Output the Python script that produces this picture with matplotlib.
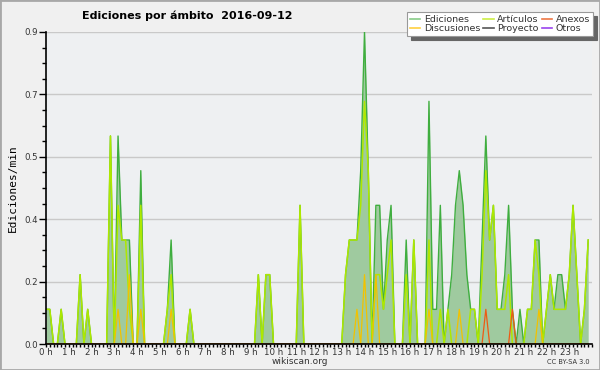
import numpy as np
import matplotlib
matplotlib.use("Agg")
import matplotlib.pyplot as plt
from matplotlib.patches import Rectangle
from matplotlib.ticker import MultipleLocator, FuncFormatter

# edits per minute, one value per 10-minute bin (6 bins per hour row)
ediciones = [
    0.1, 0.1, 0, 0, 0.1, 0,        # 0 h
    0, 0, 0, 0.2, 0, 0.1,          # 1 h
    0, 0, 0, 0, 0, 0.6,            # 2 h
    0, 0.6, 0.3, 0.3, 0.3, 0,      # 3 h
    0, 0.5, 0, 0, 0, 0,            # 4 h
    0, 0, 0.1, 0.3, 0, 0,          # 5 h
    0, 0, 0.1, 0, 0, 0,            # 6 h
    0, 0, 0, 0, 0, 0,              # 7 h
    0, 0, 0, 0, 0, 0,              # 8 h
    0, 0, 0.2, 0, 0.2, 0.2,        # 9 h
    0, 0, 0, 0, 0, 0,              # 10 h
    0, 0.4, 0, 0, 0, 0,            # 11 h
    0, 0, 0, 0, 0, 0,              # 12 h
    0, 0.2, 0.3, 0.3, 0.3, 0.5,    # 13 h
    0.9, 0.5, 0, 0.4, 0.4, 0.1,    # 14 h
    0.3, 0.4, 0, 0, 0, 0.3,        # 15 h
    0, 0.3, 0, 0, 0, 0.7,          # 16 h
    0.1, 0.1, 0.4, 0, 0.1, 0.2,    # 17 h
    0.4, 0.5, 0.4, 0.2, 0.1, 0.1,  # 18 h
    0, 0.3, 0.6, 0.3, 0.4, 0.1,    # 19 h
    0.1, 0.2, 0.4, 0.1, 0, 0.1,    # 20 h
    0, 0.1, 0.1, 0.3, 0.3, 0,      # 21 h
    0.1, 0.2, 0.1, 0.2, 0.2, 0.1,  # 22 h
    0.2, 0.4, 0.2, 0, 0.1, 0.3,    # 23 h
]
articulos = [
    0.1, 0.1, 0, 0, 0.1, 0,
    0, 0, 0, 0.2, 0, 0.1,
    0, 0, 0, 0, 0, 0.6,
    0, 0.4, 0.3, 0.3, 0.1, 0,
    0, 0.4, 0, 0, 0, 0,
    0, 0, 0.1, 0.2, 0, 0,
    0, 0, 0.1, 0, 0, 0,
    0, 0, 0, 0, 0, 0,
    0, 0, 0, 0, 0, 0,
    0, 0, 0.2, 0, 0.2, 0.2,
    0, 0, 0, 0, 0, 0,
    0, 0.4, 0, 0, 0, 0,
    0, 0, 0, 0, 0, 0,
    0, 0.2, 0.3, 0.3, 0.3, 0.4,
    0.7, 0.5, 0, 0.2, 0.2, 0.1,
    0.2, 0.3, 0, 0, 0, 0.2,
    0, 0.3, 0, 0, 0, 0.3,
    0, 0, 0.1, 0, 0.1, 0,
    0, 0, 0, 0, 0.1, 0.1,
    0, 0.2, 0.5, 0.3, 0.4, 0.1,
    0.1, 0.1, 0.2, 0, 0, 0,
    0, 0.1, 0.1, 0.3, 0.2, 0,
    0.1, 0.2, 0.1, 0.1, 0.1, 0.1,
    0.2, 0.4, 0.2, 0, 0.1, 0.3,
]
# sparse series: bin index -> value
discusiones_bins = [19, 22, 25, 33, 82, 84, 87, 101, 109, 130]
discusiones_vals = [0.1, 0.2, 0.1, 0.1, 0.1, 0.2, 0.2, 0.1, 0.1, 0.1]
anexos_bins = [116, 123]
anexos_vals = [0.1, 0.1]

hour_labels = [f"{h} h" for h in range(24)]

n = len(ediciones)
t = np.arange(n) / 6.0
discusiones = np.zeros(n)
discusiones[discusiones_bins] = discusiones_vals
anexos = np.zeros(n)
anexos[anexos_bins] = anexos_vals

plt.rcParams["font.family"] = "DejaVu Sans"
fig = plt.figure(figsize=(6, 3.7), dpi=100, facecolor="#f0f0f0")
ax = fig.add_axes([46 / 600, 26 / 370, 546 / 600, 312 / 370])
ax.set_facecolor("#eef0f2")

ax.fill_between(t, ediciones, 0, color="#9fca9f", lw=0, zorder=2)
ax.plot(t, ediciones, color="#3fae3f", lw=1.0, zorder=3)
ax.plot(t, articulos, color="#aee800", lw=1.1, zorder=4)
ax.plot(t, discusiones, color="#f2c200", lw=0.9, zorder=5)
ax.plot(t, anexos, color="#ee5a14", lw=0.9, zorder=6)

ax.set_xlim(0, 24)
ax.set_ylim(0, 0.9)
ax.yaxis.set_major_locator(MultipleLocator(0.18))
ax.yaxis.set_minor_locator(MultipleLocator(0.045))
ax.yaxis.set_major_formatter(FuncFormatter(lambda v, p: f"{v:.1f}"))
ax.set_xticks(range(24))
ax.set_xticklabels(hour_labels)
ax.xaxis.set_minor_locator(MultipleLocator(1 / 6))
ax.grid(axis="y", color="#c9c9c9", lw=1.0, zorder=1)
ax.set_axisbelow(True)
for s in ["top", "right"]:
    ax.spines[s].set_visible(False)
for s in ["left", "bottom"]:
    ax.spines[s].set_color("black")
    ax.spines[s].set_linewidth(1.2)
    ax.spines[s].set_zorder(7)
ax.tick_params(axis="y", which="major", length=5, width=1, labelsize=6.2, pad=1)
ax.tick_params(axis="y", which="minor", length=3, width=1)
ax.tick_params(axis="x", which="both", length=2.5, width=1, labelsize=6.2, pad=0.5)
ax.tick_params(axis="both", labelcolor="#333333")

ax.set_ylabel("Ediciones/min", family="DejaVu Sans Mono", fontsize=8)
ax.yaxis.set_label_coords(-0.052, 0.5)

fig.text(0.312, 0.958, "Ediciones por ámbito  2016-09-12", fontsize=8,
         fontweight="bold", ha="center", va="center")
fig.text(0.5, 0.024, "wikiscan.org", fontsize=6.5, ha="center", va="center", color="#333333")
fig.text(0.982, 0.022, "CC BY-SA 3.0", fontsize=4.8, ha="right", va="center", color="#333333")

# legend (Proyecto / Otros have no marks in this day)
handles = [
    plt.Line2D([], [], color="#88cc88", lw=1.2),
    plt.Line2D([], [], color="#ffd040", lw=1.2),
    plt.Line2D([], [], color="#ccee44", lw=1.2),
    plt.Line2D([], [], color="#555555", lw=1.2),
    plt.Line2D([], [], color="#ee7744", lw=1.2),
    plt.Line2D([], [], color="#9944ee", lw=1.2),
]
labels = ["Ediciones", "Discusiones", "Artículos", "Proyecto", "Anexos", "Otros"]
leg = fig.legend(handles, labels, ncol=3, loc="upper right",
                 bbox_to_anchor=(593 / 600, 1 - 12 / 370), fontsize=6.8,
                 frameon=True, fancybox=False, handlelength=1.1, handletextpad=0.4,
                 columnspacing=0.3, labelspacing=0.0, borderpad=0.3,
                 borderaxespad=0,
                 shadow={"color": "#666666", "alpha": 1, "ox": 3, "oy": -3})
leg.get_frame().set_edgecolor("#999999")
leg.get_frame().set_facecolor("white")
leg.get_frame().set_linewidth(0.8)
for txt in leg.get_texts():
    txt.set_color("#333333")

fig.patches.append(Rectangle((0, 0), 1, 1, transform=fig.transFigure, fill=False,
                             edgecolor="#a8a8a8", lw=2, zorder=10))

fig.savefig("out.png", dpi=100, facecolor=fig.get_facecolor())
